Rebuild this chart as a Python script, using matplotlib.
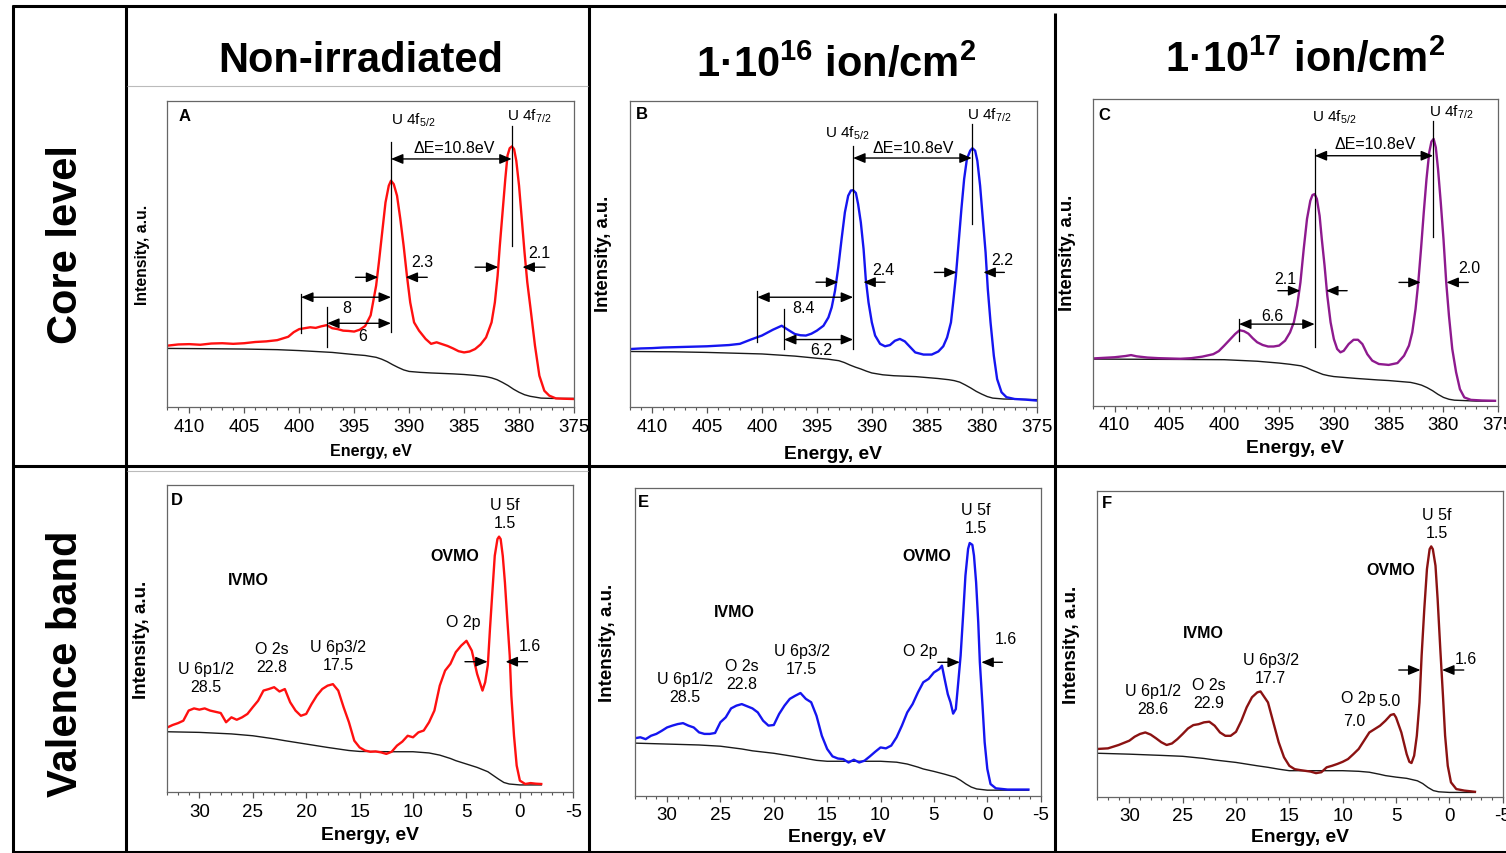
import matplotlib
matplotlib.use("Agg")
import matplotlib.pyplot as plt
from matplotlib.lines import Line2D
from matplotlib.ticker import MultipleLocator

plt.rcParams['font.family'] = ['Liberation Sans', 'DejaVu Sans']
plt.rcParams['mathtext.fontset'] = 'custom'
plt.rcParams['mathtext.rm'] = 'Liberation Sans'
plt.rcParams['mathtext.it'] = 'Liberation Sans:italic'
plt.rcParams['mathtext.bf'] = 'Liberation Sans:bold'
plt.rcParams['axes.unicode_minus'] = False

# ---------------------------------------------------------------- data
# U 4f core level, non-irradiated (binding energy, eV / intensity, a.u.)
a_energy = [412.0, 411.0, 410.0, 409.0, 408.0, 407.0, 406.0, 405.0, 404.0, 403.0,
            402.0, 401.0, 400.5, 400.0, 399.5, 399.0, 398.5, 398.0, 397.5, 397.0,
            396.5, 396.0, 395.5, 395.0, 394.5, 394.0, 393.5, 393.0, 392.75, 392.45,
            392.15, 391.85, 391.65, 391.4, 391.1, 390.8, 390.5, 390.2, 389.9, 389.55,
            389.1, 388.5, 388.0, 387.5, 387.0, 386.5, 386.0, 385.5, 385.0, 384.5,
            384.0, 383.5, 383.0, 382.5, 382.2, 381.95, 381.75, 381.5, 381.25, 381.05,
            380.85, 380.65, 380.45, 380.25, 380.0, 379.75, 379.5, 379.25, 378.95, 378.55,
            378.15, 377.7, 377.25, 376.65, 376.0, 375.0]
a_signal = [20.1, 20.5, 20.6, 20.4, 20.8, 20.9, 20.7, 20.9, 21.3, 21.5,
            21.9, 23.0, 24.5, 25.5, 25.8, 26.1, 25.9, 26.4, 26.8, 25.8,
            25.5, 25.0, 24.9, 24.7, 25.3, 26.5, 30.0, 39.7, 47.3, 57.1,
            66.8, 72.3, 73.9, 72.8, 69.0, 61.4, 52.7, 42.9, 34.2, 27.7,
            25.0, 22.3, 20.7, 21.2, 20.6, 20.0, 19.2, 18.3, 17.9, 18.2,
            19.0, 20.5, 22.8, 27.7, 34.2, 42.9, 52.7, 63.6, 74.5, 82.1,
            84.5, 85.1, 84.2, 80.4, 72.3, 61.4, 50.5, 40.8, 32.1, 20.1,
            10.3, 5.4, 3.8, 2.9, 2.8, 2.7]
a_bg_energy = [412, 408, 405, 402, 400, 397, 395, 394, 393, 392.5, 392, 391.5, 391,
               390.5, 390, 389, 388, 386, 385, 384, 383, 382.5, 382, 381.5, 381,
               380.5, 380, 379.5, 379, 378, 377, 375]
a_background = [19.2, 19.1, 19.0, 18.8, 18.5, 17.9, 17.2, 16.9, 16.3, 15.7, 14.9, 13.9, 13.0,
                12.2, 11.7, 11.4, 11.2, 10.9, 10.7, 10.4, 10.0, 9.6, 9.0, 8.1, 7.1,
                5.9, 4.9, 4.1, 3.6, 3.0, 2.9, 2.9]

# U 4f core level, 1e16 ion/cm2
b_energy = [412.0, 411.0, 410.0, 409.0, 408.0, 407.0, 406.0, 405.0, 404.0, 403.0,
            402.0, 401.0, 400.0, 399.0, 398.2, 397.5, 397.0, 396.5, 396.0, 395.5,
            395.0, 394.4, 393.95, 393.65, 393.35, 393.05, 392.75, 392.45, 392.15, 391.9,
            391.7, 391.45, 391.25, 391.0, 390.75, 390.55, 390.3, 390.0, 389.7, 389.25,
            388.8, 388.35, 387.9, 387.45, 387.0, 386.5, 386.05, 385.3, 384.55, 383.95,
            383.5, 383.15, 382.8, 382.6, 382.35, 382.1, 381.85, 381.6, 381.35, 381.05,
            380.85, 380.6, 380.4, 380.15, 379.9, 379.65, 379.45, 379.2, 378.9, 378.6,
            378.2, 377.75, 377.0, 376.0, 375.0]
b_signal = [19.0, 19.2, 19.3, 19.5, 19.6, 19.7, 19.8, 19.9, 20.1, 20.3,
            20.7, 22.1, 23.4, 25.3, 26.6, 25.0, 23.9, 23.5, 23.4, 24.0,
            25.0, 26.6, 29.3, 32.6, 38.0, 45.7, 54.9, 63.6, 69.0, 70.7,
            70.8, 69.9, 66.3, 60.3, 51.6, 41.8, 34.2, 27.7, 23.4, 20.7,
            19.9, 20.3, 21.7, 22.3, 21.5, 19.6, 17.9, 17.2, 17.2, 18.2,
            19.9, 22.8, 27.7, 34.2, 42.9, 53.8, 64.7, 74.5, 81.0, 83.7,
            84.5, 83.7, 80.4, 72.3, 61.4, 50.5, 38.6, 27.7, 16.8, 9.2,
            4.9, 3.3, 2.7, 2.5, 2.2]
b_bg_energy = [412, 408, 405, 402, 400, 397, 395, 394, 393, 392.5, 392, 391.5, 391,
               390.5, 390, 389, 388, 386, 385, 384, 383, 382.5, 382, 381.5, 381,
               380.5, 380, 379.5, 379, 378, 375]
b_background = [18.2, 18.1, 17.9, 17.6, 17.4, 16.7, 16.0, 15.7, 15.2, 14.6, 13.8, 13.1, 12.5,
                11.8, 11.2, 10.6, 10.3, 10.0, 9.7, 9.4, 9.0, 8.7, 8.2, 7.3, 6.3,
                5.2, 4.3, 3.5, 3.0, 2.7, 2.5]

# U 4f core level, 1e17 ion/cm2
c_energy = [412.0, 411.0, 410.0, 409.0, 408.5, 408.0, 407.0, 406.0, 405.0, 404.0,
            403.0, 402.0, 401.0, 400.5, 400.0, 399.5, 399.0, 398.6, 398.2, 397.8,
            397.4, 397.0, 396.5, 396.0, 395.5, 395.0, 394.45, 394.0, 393.65, 393.35,
            393.05, 392.75, 392.45, 392.15, 391.95, 391.75, 391.55, 391.3, 391.1, 390.85,
            390.6, 390.3, 390.0, 389.7, 389.4, 389.1, 388.65, 388.2, 387.8, 387.4,
            386.95, 386.5, 385.9, 385.0, 384.2, 383.6, 383.15, 382.85, 382.55, 382.3,
            382.05, 381.8, 381.55, 381.3, 381.1, 380.9, 380.7, 380.5, 380.25, 380.0,
            379.75, 379.5, 379.2, 378.85, 378.5, 378.1, 377.5, 376.5, 375.3]
c_signal = [15.4, 15.6, 15.8, 16.2, 16.5, 16.1, 15.7, 15.5, 15.4, 15.3,
            15.5, 16.0, 16.8, 17.8, 19.6, 21.5, 23.4, 24.6, 24.3, 23.5,
            22.0, 20.7, 19.8, 19.3, 19.3, 19.6, 21.2, 23.9, 27.2, 32.6,
            40.2, 51.1, 60.9, 66.8, 68.7, 69.0, 67.4, 61.9, 54.3, 45.7,
            35.9, 27.2, 21.7, 18.5, 17.4, 17.9, 20.1, 21.5, 21.5, 20.1,
            16.8, 14.7, 13.6, 13.3, 13.9, 16.3, 19.6, 23.9, 31.5, 40.2,
            51.1, 63.0, 73.9, 82.6, 86.1, 87.0, 84.2, 77.2, 66.3, 54.3,
            40.2, 29.3, 18.5, 10.9, 5.4, 2.7, 1.9, 1.7, 1.6]
c_bg_energy = [412, 405, 400, 397, 395, 394, 393, 392.5, 392, 391.5, 391, 390.5, 390,
               388, 386, 385, 384, 383, 382.5, 382, 381.5, 381, 380.5, 380, 379.5,
               379, 377, 375.3]
c_background = [15.2, 15.1, 15.0, 14.5, 13.9, 13.5, 13.0, 12.4, 11.6, 10.9, 10.2, 9.8, 9.5,
                8.9, 8.4, 8.2, 7.9, 7.6, 7.2, 6.7, 5.9, 4.9, 3.7, 2.7, 2.1,
                1.8, 1.5, 1.5]

# Valence band, non-irradiated
d_energy = [33.0, 32.5, 32.0, 31.5, 31.0, 30.5, 30.0, 29.5, 29.0, 28.5,
            28.0, 27.5, 27.0, 26.5, 26.0, 25.5, 25.0, 24.5, 24.0, 23.5,
            23.0, 22.5, 22.0, 21.5, 21.0, 20.5, 20.0, 19.5, 19.0, 18.5,
            18.0, 17.5, 17.0, 16.5, 16.0, 15.5, 15.0, 14.5, 14.0, 13.5,
            13.0, 12.5, 12.0, 11.5, 11.0, 10.5, 10.0, 9.5, 9.0, 8.5,
            8.0, 7.5, 7.0, 6.5, 6.0, 5.5, 5.0, 4.5, 4.0, 3.5,
            3.25, 3.0, 2.8, 2.6, 2.35, 2.1, 1.95, 1.8, 1.6, 1.4,
            1.2, 0.95, 0.8, 0.55, 0.3, 0.0, -0.5, -1.0, -1.5, -2.0]
d_signal = [21.1, 21.9, 22.5, 23.3, 26.6, 27.3, 26.9, 27.3, 26.6, 26.2,
            25.8, 22.8, 24.4, 23.6, 24.4, 25.5, 27.7, 29.8, 33.1, 33.6,
            34.2, 32.8, 33.6, 29.3, 26.6, 24.9, 25.5, 28.7, 31.5, 33.6,
            34.7, 35.2, 33.1, 27.7, 22.8, 16.8, 14.6, 13.6, 13.2, 13.3,
            13.0, 12.5, 13.2, 15.2, 16.5, 18.4, 17.9, 19.5, 20.1, 22.8,
            26.6, 34.7, 39.6, 41.8, 45.6, 47.7, 49.3, 46.1, 38.5, 33.1,
            35.8, 41.4, 53.1, 63.9, 77.0, 82.4, 83.2, 82.4, 76.9, 68.3,
            57.5, 44.5, 31.5, 18.4, 8.7, 3.8, 2.7, 3.0, 2.8, 2.7]
d_bg_energy = [33, 30, 27, 25, 23, 22, 20, 18, 17, 16, 15, 12, 10, 8.5, 7.5, 6.5,
               6, 5, 4, 3, 2.5, 2, 1.5, 1, 0, -2]
d_background = [19.7, 19.5, 19.0, 18.4, 17.4, 16.8, 15.7, 14.6, 14.1, 13.6, 13.3, 13.2,
                13.2, 12.8, 12.1, 11.0, 10.3, 9.2, 8.1, 6.7, 5.5, 4.3, 3.2, 2.7, 2.4, 2.4]

# Valence band, 1e16 ion/cm2
e_energy = [33.0, 32.5, 32.0, 31.5, 31.0, 30.5, 30.0, 29.5, 29.0, 28.5,
            28.0, 27.5, 27.0, 26.5, 26.0, 25.5, 25.0, 24.5, 24.0, 23.5,
            23.0, 22.5, 22.0, 21.5, 21.0, 20.5, 20.0, 19.5, 19.0, 18.5,
            18.0, 17.5, 17.0, 16.5, 16.0, 15.5, 15.0, 14.5, 14.0, 13.5,
            13.0, 12.5, 12.0, 11.5, 11.0, 10.5, 10.0, 9.5, 9.0, 8.5,
            8.0, 7.5, 7.0, 6.5, 6.0, 5.5, 5.0, 4.5, 4.25, 4.0,
            3.7, 3.45, 3.2, 2.95, 2.75, 2.5, 2.25, 2.05, 1.8, 1.65,
            1.4, 1.25, 1.05, 0.85, 0.7, 0.45, 0.25, 0.0, -0.3, -0.8,
            -1.9, -3.85]
e_signal = [18.7, 19.0, 18.4, 19.5, 20.1, 21.1, 22.2, 22.8, 23.3, 23.6,
            22.8, 22.2, 20.6, 20.1, 20.1, 20.4, 23.9, 25.5, 28.4, 29.3,
            29.8, 29.1, 28.4, 27.1, 24.4, 22.8, 23.0, 26.6, 29.3, 31.5,
            32.5, 33.4, 31.5, 30.4, 26.0, 19.5, 15.2, 12.8, 12.1, 11.9,
            10.8, 11.7, 10.8, 11.4, 12.8, 14.3, 15.7, 15.4, 16.3, 19.0,
            22.8, 27.1, 29.8, 33.6, 36.9, 38.0, 40.1, 41.2, 42.3, 38.0,
            33.0, 30.4, 26.7, 28.2, 35.8, 45.6, 59.7, 71.6, 80.3, 82.2,
            81.6, 78.1, 69.4, 56.4, 43.4, 29.3, 17.4, 8.7, 3.8, 2.4,
            2.0, 2.0]
e_bg_energy = [33, 30, 27, 25, 23, 22, 20, 18, 17, 16, 15, 10, 8.5, 7.5, 6.5, 6,
               5, 4, 3, 2.5, 2, 1.5, 1, 0, -3.85]
e_background = [17.1, 16.8, 16.5, 16.1, 15.2, 14.6, 13.8, 12.7, 12.1, 11.5, 11.2, 11.2,
                10.9, 10.3, 9.3, 8.7, 7.9, 7.0, 6.0, 5.0, 3.8, 2.8, 2.2, 1.8, 1.8]

# Valence band, 1e17 ion/cm2
f_energy = [33.0, 32.0, 31.0, 30.0, 29.5, 29.0, 28.5, 28.0, 27.5, 27.0,
            26.5, 26.0, 25.5, 25.0, 24.5, 24.0, 23.5, 23.0, 22.5, 22.0,
            21.5, 21.0, 20.5, 20.0, 19.5, 19.0, 18.5, 18.0, 17.7, 17.0,
            16.5, 16.0, 15.5, 15.0, 14.5, 14.0, 13.0, 12.5, 12.0, 11.5,
            11.0, 10.5, 10.0, 9.5, 9.0, 8.5, 8.0, 7.5, 7.0, 6.5,
            6.0, 5.5, 5.2, 5.0, 4.5, 4.0, 3.75, 3.55, 3.3, 3.05,
            2.8, 2.6, 2.35, 2.1, 1.85, 1.7, 1.55, 1.3, 1.1, 0.85,
            0.6, 0.4, 0.15, -0.15, -0.65, -1.4, -2.4]
f_signal = [15.6, 15.8, 16.9, 18.3, 19.6, 20.5, 21.0, 20.3, 19.1, 17.8,
            16.9, 17.4, 18.8, 20.5, 22.3, 23.4, 23.7, 24.3, 24.5, 23.2,
            21.0, 19.9, 19.9, 21.2, 24.8, 29.2, 32.5, 34.1, 34.4, 30.8,
            24.3, 17.8, 12.9, 10.1, 9.0, 8.7, 8.2, 7.7, 8.0, 9.6,
            10.1, 10.7, 11.4, 12.3, 13.9, 15.6, 18.3, 21.0, 22.1, 23.2,
            24.8, 26.7, 27.0, 25.9, 21.0, 13.9, 11.4, 11.0, 13.4, 19.9,
            30.8, 46.1, 61.3, 74.4, 80.9, 81.8, 80.9, 75.5, 64.6, 48.3,
            33.0, 20.0, 10.1, 4.7, 2.5, 2.0, 1.6]
f_bg_energy = [33, 30, 27, 25, 23, 22, 20, 18, 17, 16, 15, 10, 8.5, 7.5, 6.5, 6,
               5, 4, 3, 2.5, 2, 1.5, 1, 0, -2.4]
f_background = [14.2, 13.9, 13.5, 13.2, 12.5, 12.0, 11.2, 10.1, 9.6, 9.0, 8.5, 8.5,
                8.3, 8.0, 7.3, 6.9, 6.4, 6.0, 5.2, 4.3, 3.0, 2.0, 1.6, 1.4, 1.4]

column_titles = ['Non-irradiated',
                 r'1·10$^{\mathbf{16}}$ ion/cm$^{\mathbf{2}}$',
                 r'1·10$^{\mathbf{17}}$ ion/cm$^{\mathbf{2}}$']
row_titles = ['Core level', 'Valence band']

# ---------------------------------------------------------------- layout
W, H = 1506, 854
fig = plt.figure(figsize=(W / 100, H / 100), dpi=100)
fig.patch.set_facecolor('white')


def fxy(x, y):
    return x / W, 1 - y / H


def add_panel(box, xlim, letter, letter_pos, xlabel_px, ylabel_px, label_size,
              ylabel_size):
    l, t, r, b = box
    ax = fig.add_axes([l / W, 1 - b / H, (r - l) / W, (b - t) / H])
    ax.set_xlim(*xlim)
    ax.set_ylim(0, 100)
    ax.set_yticks([])
    ax.xaxis.set_major_locator(MultipleLocator(5))
    ax.xaxis.set_minor_locator(MultipleLocator(1))
    ax.tick_params(axis='x', which='both', direction='out', color='#555555',
                   top=False, labelsize=13.5, pad=3)
    ax.tick_params(axis='x', which='major', length=4.5, width=0.9)
    ax.tick_params(axis='x', which='minor', length=2.5, width=0.8)
    for s in ax.spines.values():
        s.set_color('#666666')
        s.set_linewidth(0.9)
    ax.text(letter_pos[0], letter_pos[1], letter, transform=ax.transAxes,
            fontsize=12, fontweight='bold', ha='center', va='center')
    ax.set_xlabel('Energy, eV', fontsize=label_size, fontweight='bold')
    ax.xaxis.set_label_coords((xlabel_px[0] - l) / (r - l), (b - xlabel_px[1]) / (b - t))
    ax.xaxis.label.set_va('center')
    ax.set_ylabel('Intensity, a.u.', fontsize=ylabel_size, fontweight='bold')
    ax.yaxis.set_label_coords((ylabel_px[0] - l) / (r - l), (b - ylabel_px[1]) / (b - t))
    ax.yaxis.label.set_va('center')
    return ax


HEAD1 = '-|>,head_length=0.6,head_width=0.25'
HEAD2 = '<|-|>,head_length=0.6,head_width=0.25'


def arrow(ax, x_from, x_to, y, style=HEAD1):
    ax.annotate('', xy=(x_to, y), xytext=(x_from, y),
                arrowprops=dict(arrowstyle=style, color='black', lw=1.0,
                                shrinkA=0, shrinkB=0, mutation_scale=12))


def marker_line(ax, x, y0, y1):
    ax.plot([x, x], [y0, y1], color='black', lw=0.9)


def fwhm(ax, left_tail, left_head, right_tail, right_head, y):
    arrow(ax, left_tail, left_head, y)
    arrow(ax, right_tail, right_head, y)


def note(ax, x, y, s, size=11.5, **kw):
    ax.text(x, y, s, fontsize=size, ha='center', va='center', **kw)


CORE_XLIM = (412, 375)
VB_XLIM = (33, -5)

# ------------------------------------------------------------ core level
ax_a = add_panel((167.3, 101.7, 574, 408.3), CORE_XLIM, 'A', (0.043, 0.953),
                 (371, 452), (142, 255), 11.5, 11.3)
ax_b = add_panel((630, 101.7, 1036.7, 408.3), CORE_XLIM, 'B', (0.029, 0.957),
                 (833, 455), (603, 254), 13.9, 13.3)
ax_c = add_panel((1092.7, 100, 1498.3, 406.7), CORE_XLIM, 'C', (0.029, 0.951),
                 (1295, 449), (1067, 253), 13.9, 13.3)

ax_a.plot(a_bg_energy, a_background, color='#1a1a1a', lw=1.0)
ax_a.plot(a_energy, a_signal, color='#ff1010', lw=1.7)
ax_b.plot(b_bg_energy, b_background, color='#1a1a1a', lw=1.0)
ax_b.plot(b_energy, b_signal, color='#1515f0', lw=1.7)
ax_c.plot(c_bg_energy, c_background, color='#1a1a1a', lw=1.0)
ax_c.plot(c_energy, c_signal, color='#8e1a8e', lw=1.7)

# panel A annotations
marker_line(ax_a, 391.65, 24.5, 86.4)
marker_line(ax_a, 380.67, 52.7, 91.8)
ax_a.text(391.69, 92.4, r'U 4f$_{5/2}$', fontsize=11, ha='left', va='baseline')
ax_a.text(381.06, 93.8, r'U 4f$_{7/2}$', fontsize=11, ha='left', va='baseline')
arrow(ax_a, 391.65, 380.67, 81.0, HEAD2)
ax_a.text(385.9, 83.4, 'ΔE=10.8eV', fontsize=11.5, ha='center', va='baseline')
fwhm(ax_a, 394.88, 392.81, 388.35, 390.32, 42.4)
ax_a.text(388.8, 46.2, '2.3', fontsize=11.5, ha='center', va='baseline')
fwhm(ax_a, 384.0, 381.88, 377.63, 379.69, 45.7)
ax_a.text(378.17, 48.9, '2.1', fontsize=11.5, ha='center', va='baseline')
marker_line(ax_a, 399.83, 24.1, 37.0)
arrow(ax_a, 399.83, 391.65, 35.9, HEAD2)
ax_a.text(395.64, 31.2, '8', fontsize=11.5, ha='center', va='baseline')
marker_line(ax_a, 397.46, 19.6, 32.6)
arrow(ax_a, 397.46, 391.65, 27.4, HEAD2)
ax_a.text(394.2, 22.1, '6', fontsize=11.5, ha='center', va='baseline')

# panel B annotations
marker_line(ax_b, 391.7, 19.0, 85.1)
marker_line(ax_b, 380.91, 59.8, 92.4)
ax_b.text(394.26, 88.4, r'U 4f$_{5/2}$', fontsize=11, ha='left', va='baseline')
ax_b.text(381.37, 94.2, r'U 4f$_{7/2}$', fontsize=11, ha='left', va='baseline')
arrow(ax_b, 391.7, 380.91, 81.3, HEAD2)
ax_b.text(386.22, 83.4, 'ΔE=10.8eV', fontsize=11.5, ha='center', va='baseline')
fwhm(ax_b, 395.08, 393.05, 388.8, 390.77, 40.8)
ax_b.text(388.95, 43.5, '2.4', fontsize=11.5, ha='center', va='baseline')
fwhm(ax_b, 384.31, 382.28, 377.94, 379.85, 44.0)
ax_b.text(378.12, 46.7, '2.2', fontsize=11.5, ha='center', va='baseline')
marker_line(ax_b, 400.42, 21.2, 38.0)
arrow(ax_b, 400.42, 391.7, 35.9, HEAD2)
ax_b.text(396.23, 31.0, '8.4', fontsize=11.5, ha='center', va='baseline')
marker_line(ax_b, 397.99, 19.0, 32.1)
arrow(ax_b, 397.99, 391.7, 22.1, HEAD2)
ax_b.text(394.56, 17.4, '6.2', fontsize=11.5, ha='center', va='baseline')

# panel C annotations
marker_line(ax_c, 391.75, 19.3, 83.7)
marker_line(ax_c, 380.95, 54.9, 92.9)
ax_c.text(392.0, 92.9, r'U 4f$_{5/2}$', fontsize=11, ha='left', va='baseline')
ax_c.text(381.32, 94.6, r'U 4f$_{7/2}$', fontsize=11, ha='left', va='baseline')
arrow(ax_c, 391.75, 380.95, 81.5, HEAD2)
ax_c.text(386.2, 83.9, 'ΔE=10.8eV', fontsize=11.5, ha='center', va='baseline')
fwhm(ax_c, 395.11, 393.06, 388.79, 390.71, 37.5)
ax_c.text(394.44, 40.0, '2.1', fontsize=11.5, ha='center', va='baseline')
fwhm(ax_c, 384.06, 382.08, 377.74, 379.73, 40.2)
ax_c.text(377.65, 43.5, '2.0', fontsize=11.5, ha='center', va='baseline')
marker_line(ax_c, 398.65, 21.2, 28.3)
arrow(ax_c, 398.65, 391.75, 26.6, HEAD2)
ax_c.text(395.6, 27.9, '6.6', fontsize=11.5, ha='center', va='baseline')

# --------------------------------------------------------- valence band
ax_d = add_panel((167.3, 486, 573.3, 793.3), VB_XLIM, 'D', (0.023, 0.952),
                 (370, 836), (141, 640), 13.9, 13.5)
ax_e = add_panel((635, 489.3, 1040.7, 796.7), VB_XLIM, 'E', (0.022, 0.958),
                 (837, 838), (608, 643), 13.9, 13.5)
ax_f = add_panel((1097.3, 491.7, 1502.7, 797.7), VB_XLIM, 'F', (0.023, 0.96),
                 (1300, 838), (1071, 645), 13.9, 13.5)

ax_d.plot(d_bg_energy, d_background, color='#1a1a1a', lw=1.0)
ax_d.plot(d_energy, d_signal, color='#ff1010', lw=1.7)
ax_e.plot(e_bg_energy, e_background, color='#1a1a1a', lw=1.0)
ax_e.plot(e_energy, e_signal, color='#1515f0', lw=1.7)
ax_f.plot(f_bg_energy, f_background, color='#1a1a1a', lw=1.0)
ax_f.plot(f_energy, f_signal, color='#8b1212', lw=1.7)

# panel D annotations
note(ax_d, 25.39, 69.2, 'IVMO', fontweight='bold')
note(ax_d, 6.07, 77.2, 'OVMO', fontweight='bold')
note(ax_d, 1.40, 90.85, 'U 5f\n1.5', linespacing=1.25)
note(ax_d, 5.30, 55.5, 'O 2p')
note(ax_d, 17.04, 44.55, 'U 6p3/2\n17.5', linespacing=1.25)
note(ax_d, 23.21, 44.0, 'O 2s\n22.8', linespacing=1.25)
note(ax_d, 29.38, 37.35, 'U 6p1/2\n28.5', linespacing=1.25)
fwhm(ax_d, 5.14, 3.02, -0.72, 1.34, 42.5)
note(ax_d, -0.93, 47.7, '1.6')

# panel E annotations
note(ax_e, 23.74, 59.9, 'IVMO', fontweight='bold')
note(ax_e, 5.70, 78.3, 'OVMO', fontweight='bold')
note(ax_e, 1.09, 90.3, 'U 5f\n1.5', linespacing=1.25)
note(ax_e, 6.32, 47.2, 'O 2p')
note(ax_e, 17.38, 44.2, 'U 6p3/2\n17.5', linespacing=1.25)
note(ax_e, 23.02, 39.55, 'O 2s\n22.8', linespacing=1.25)
note(ax_e, 28.34, 35.35, 'U 6p1/2\n28.5', linespacing=1.25)
fwhm(ax_e, 4.63, 2.57, -1.41, 0.56, 43.4)
note(ax_e, -1.73, 51.2, '1.6')

# panel F annotations
note(ax_f, 23.04, 53.5, 'IVMO', fontweight='bold')
note(ax_f, 5.52, 74.4, 'OVMO', fontweight='bold')
note(ax_f, 1.15, 89.3, 'U 5f\n1.5', linespacing=1.25)
note(ax_f, 8.58, 32.5, 'O 2p')
note(ax_f, 5.62, 31.4, '5.0')
note(ax_f, 8.89, 24.8, '7.0')
note(ax_f, 16.76, 41.9, 'U 6p3/2\n17.7', linespacing=1.25)
note(ax_f, 22.57, 33.65, 'O 2s\n22.9', linespacing=1.25)
note(ax_f, 27.78, 31.75, 'U 6p1/2\n28.6', linespacing=1.25)
fwhm(ax_f, 4.74, 2.71, -1.35, 0.68, 41.4)
note(ax_f, -1.56, 45.3, '1.6')

# ------------------------------------------------------- table framing
def rule(x0, y0, x1, y1, lw=2.2, color='black'):
    (a, b), (c, d) = fxy(x0, y0), fxy(x1, y1)
    fig.add_artist(Line2D([a, c], [b, d], transform=fig.transFigure,
                          color=color, lw=lw, solid_capstyle='butt', zorder=10))


rule(12, 7, 1506, 7)
rule(12, 467, 1506, 467)
rule(12, 852.5, 1506, 852.5)
rule(13, 6, 13, 854)
rule(126, 6, 126, 854)
rule(589, 6, 589, 854)
rule(1055, 14, 1055, 854)
rule(127, 87, 588, 87, lw=0.8, color='#bbbbbb')
rule(127, 471.5, 588, 471.5, lw=0.8, color='#bbbbbb')

title_pos = [(361, 61), (836, 65), (1305, 60)]
for (x, y), s in zip(title_pos, column_titles):
    fx_, fy_ = fxy(x, y)
    fig.text(fx_, fy_, s, fontsize=30, fontweight='bold', ha='center', va='center')

for (x, y), s in zip([(66, 244), (66, 664)], row_titles):
    fx_, fy_ = fxy(x, y)
    fig.text(fx_, fy_, s, fontsize=30, fontweight='bold', ha='center', va='center',
             rotation=90)

fig.savefig('out.png', dpi=100)
